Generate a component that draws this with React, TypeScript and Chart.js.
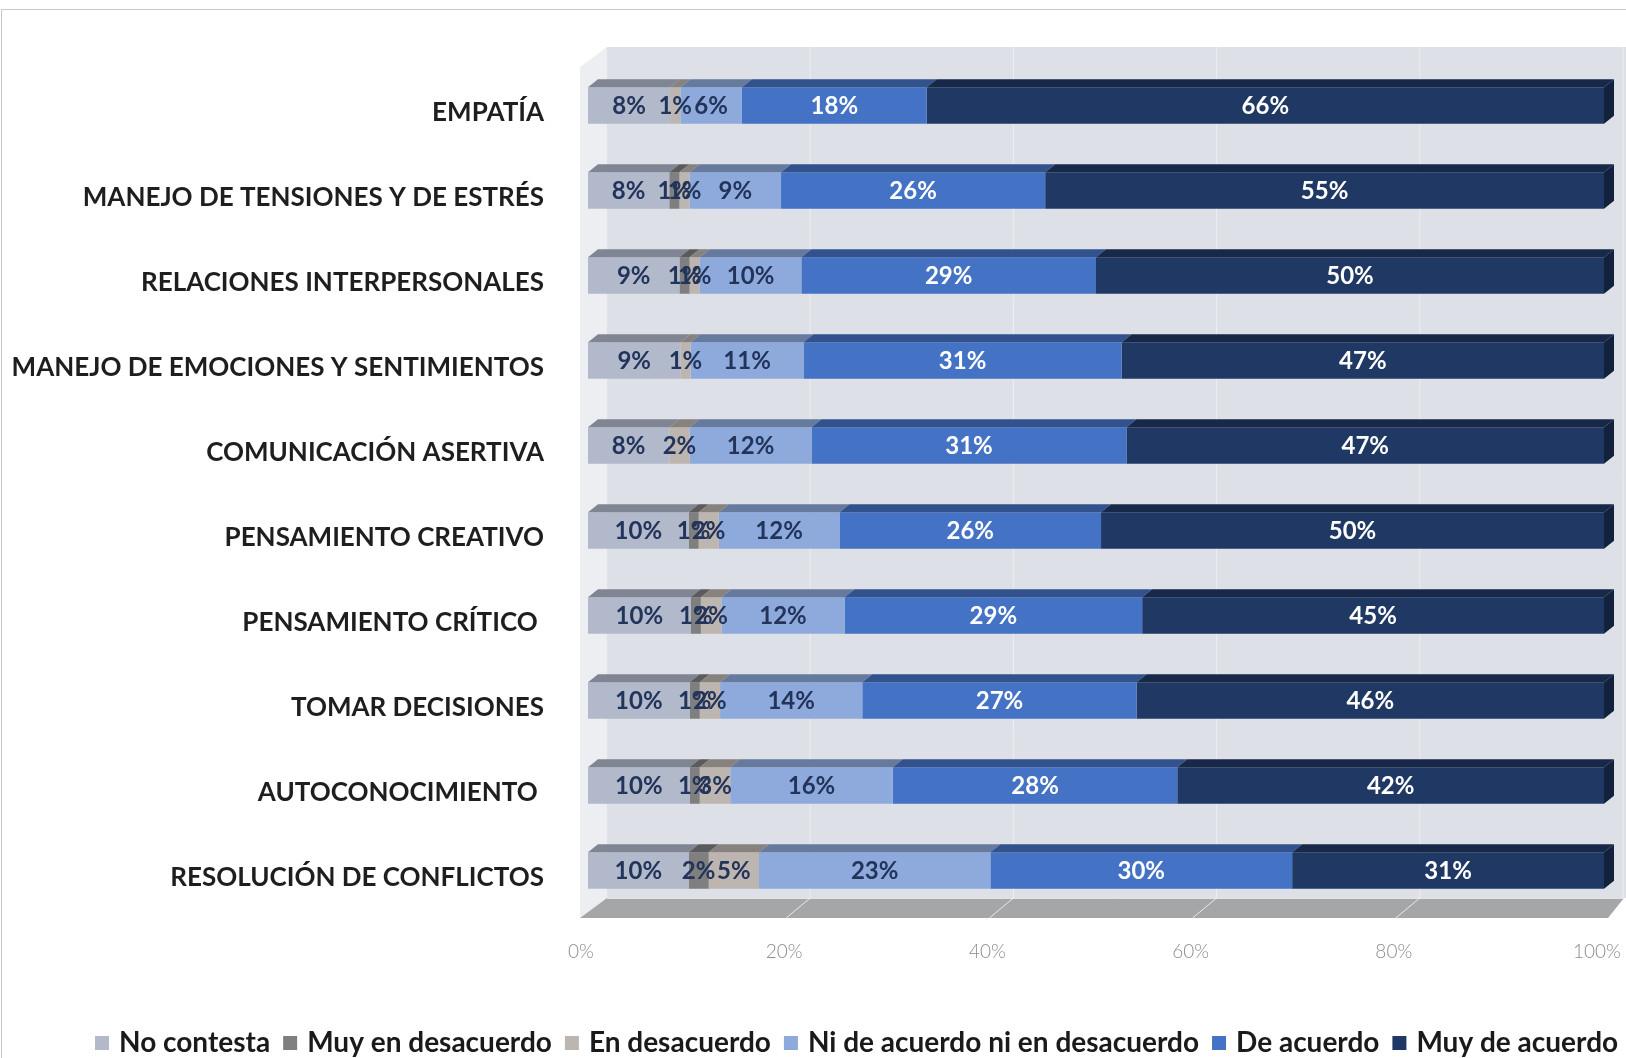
import React, { useEffect, useRef } from "react";
import { Chart, registerables } from "chart.js";

Chart.register(...registerables);

const categories = [
  "EMPATÍA",
  "MANEJO DE TENSIONES Y DE ESTRÉS",
  "RELACIONES INTERPERSONALES",
  "MANEJO DE EMOCIONES Y SENTIMIENTOS",
  "COMUNICACIÓN ASERTIVA",
  "PENSAMIENTO CREATIVO",
  "PENSAMIENTO CRÍTICO ",
  "TOMAR DECISIONES",
  "AUTOCONOCIMIENTO ",
  "RESOLUCIÓN DE CONFLICTOS",
];

const seriesNames = [
  "No contesta",
  "Muy en desacuerdo",
  "En desacuerdo",
  "Ni de acuerdo ni en desacuerdo",
  "De acuerdo",
  "Muy de acuerdo",
];

const noContesta = [8, 8, 9, 9, 8, 10, 10, 10, 10, 10];
const muyEnDesacuerdo = [0, 1, 1, 0, 0, 1, 1, 1, 1, 2];
const enDesacuerdo = [1, 1, 1, 1, 2, 2, 2, 2, 3, 5];
const niDeAcuerdo = [6, 9, 10, 11, 12, 12, 12, 14, 16, 23];
const deAcuerdo = [18, 26, 29, 31, 31, 26, 29, 27, 28, 30];
const muyDeAcuerdo = [66, 55, 50, 47, 47, 50, 45, 46, 42, 31];

const xTicks = [0, 20, 40, 60, 80, 100];

const seriesValues = [noContesta, muyEnDesacuerdo, enDesacuerdo, niDeAcuerdo, deAcuerdo, muyDeAcuerdo];
const seriesColors = ["#b1b9cb", "#7f7f7f", "#bdb5b0", "#8eaadc", "#4472c4", "#203864"];
const labelColors = ["#22345a", "#22345a", "#22345a", "#22345a", "#ffffff", "#ffffff"];

const DX = 10;
const DY = 8;
const FONT = "Lato, 'Open Sans', sans-serif";

function shade(hex: string, f: number) {
  const n = parseInt(hex.slice(1), 16);
  const r = Math.round(((n >> 16) & 255) * f);
  const g = Math.round(((n >> 8) & 255) * f);
  const b = Math.round((n & 255) * f);
  return `rgb(${r},${g},${b})`;
}

const totals = categories.map((_, i) => seriesValues.reduce((s, arr) => s + arr[i], 0));

const scenePlugin = {
  id: "scene3d",
  beforeDraw(chart: any) {
    const { ctx, chartArea: a, width, height } = chart;
    const xs = chart.scales.x;
    ctx.save();
    ctx.fillStyle = "#ffffff";
    ctx.fillRect(0, 0, width, height);
    ctx.strokeStyle = "#c8c8c8";
    ctx.lineWidth = 1;
    ctx.strokeRect(1.5, 9.5, width + 20, height + 20);

    const wallL = a.left + 19;
    const wallT = a.top - 16;
    const wallR = width;
    const floorTop = a.bottom - 15;
    const floorBot = a.bottom + 5;
    ctx.fillStyle = "#eceef2";
    ctx.beginPath();
    ctx.moveTo(a.left - 8, wallT + 20);
    ctx.lineTo(wallL, wallT);
    ctx.lineTo(wallL, floorTop);
    ctx.lineTo(a.left - 8, floorBot);
    ctx.closePath();
    ctx.fill();
    ctx.fillStyle = "#dde0e6";
    ctx.fillRect(wallL, wallT, wallR - wallL, floorTop - wallT);
    ctx.strokeStyle = "rgba(255,255,255,0.45)";
    ctx.lineWidth = 1;
    xTicks.forEach((t) => {
      if (t === 0) return;
      const px = xs.getPixelForValue(t) + 19;
      ctx.beginPath();
      ctx.moveTo(px, wallT);
      ctx.lineTo(px, floorTop);
      ctx.stroke();
    });
    ctx.fillStyle = "#a5a6a8";
    ctx.beginPath();
    ctx.moveTo(wallL, floorTop);
    ctx.lineTo(a.right + 20, floorTop);
    ctx.lineTo(a.right + 4, floorBot);
    ctx.lineTo(a.left - 8, floorBot);
    ctx.closePath();
    ctx.fill();
    ctx.strokeStyle = "#e2e4e8";
    ctx.beginPath();
    ctx.moveTo(wallL, floorTop + 0.5);
    ctx.lineTo(a.right + 20, floorTop + 0.5);
    ctx.stroke();
    ctx.strokeStyle = "rgba(255,255,255,0.75)";
    xTicks.forEach((t) => {
      if (t === 0 || t === 100) return;
      const px = xs.getPixelForValue(t);
      ctx.beginPath();
      ctx.moveTo(px + 19, floorTop);
      ctx.lineTo(px - 5, floorBot);
      ctx.stroke();
    });
    ctx.restore();
  },
  afterDatasetsDraw(chart: any) {
    const { ctx } = chart;
    ctx.save();
    const n = chart.data.datasets.length;
    chart.data.datasets.forEach((ds: any, di: number) => {
      const meta = chart.getDatasetMeta(di);
      meta.data.forEach((el: any) => {
        const p = el.getProps(["x", "y", "base", "height"], true);
        const top = p.y - p.height / 2;
        const bot = p.y + p.height / 2;
        const x0 = Math.min(p.base, p.x);
        const x1 = Math.max(p.base, p.x);
        if (x1 - x0 < 0.1) return;
        ctx.fillStyle = shade(seriesColors[di], 0.72);
        ctx.beginPath();
        ctx.moveTo(x0, top);
        ctx.lineTo(x0 + DX, top - DY);
        ctx.lineTo(x1 + DX, top - DY);
        ctx.lineTo(x1, top);
        ctx.closePath();
        ctx.fill();
        if (di === n - 1) {
          ctx.fillStyle = shade(seriesColors[di], 0.6);
          ctx.beginPath();
          ctx.moveTo(x1, top);
          ctx.lineTo(x1 + DX, top - DY);
          ctx.lineTo(x1 + DX, bot - DY);
          ctx.lineTo(x1, bot);
          ctx.closePath();
          ctx.fill();
        }
      });
    });
    ctx.font = `bold 24px ${FONT}`;
    ctx.textAlign = "center";
    ctx.textBaseline = "middle";
    chart.data.datasets.forEach((ds: any, di: number) => {
      const meta = chart.getDatasetMeta(di);
      meta.data.forEach((el: any, i: number) => {
        const v = seriesValues[di][i];
        if (!v) return;
        const p = el.getProps(["x", "y", "base"], true);
        ctx.fillStyle = labelColors[di];
        ctx.fillText(`${v}%`, (p.x + p.base) / 2, p.y + 1);
      });
    });
    ctx.restore();
  },
  afterDraw(chart: any) {
    const { ctx } = chart;
    ctx.save();
    ctx.font = `bold 28px ${FONT}`;
    ctx.textBaseline = "middle";
    ctx.textAlign = "left";
    let x = 95;
    const y = 1043;
    seriesNames.forEach((name, i) => {
      ctx.fillStyle = seriesColors[i];
      ctx.fillRect(x, y - 7, 14, 14);
      x += 14 + 10;
      ctx.fillStyle = "#1a1a1a";
      ctx.fillText(name, x, y);
      x += ctx.measureText(name).width + 13;
    });
    ctx.restore();
  },
};

export default function App() {
  const ref = useRef<HTMLCanvasElement | null>(null);
  useEffect(() => {
    document.body.style.margin = "0";
    const canvas = ref.current!;
    const chart = new Chart(canvas, {
      type: "bar",
      data: {
        labels: categories,
        datasets: seriesNames.map((name, di) => ({
          label: name,
          data: seriesValues[di].map((v, i) => (v / totals[i]) * 100),
          backgroundColor: seriesColors[di],
          borderWidth: 0,
          barPercentage: 0.43,
          categoryPercentage: 1,
        })),
      },
      options: {
        indexAxis: "y",
        responsive: false,
        animation: false,
        devicePixelRatio: 1,
        layout: { padding: { top: 63, right: 22, left: 0, bottom: 0 } },
        plugins: {
          legend: { display: false },
          tooltip: { enabled: false },
        },
        scales: {
          x: {
            stacked: true,
            min: 0,
            max: 100,
            grid: { display: false, drawTicks: false },
            border: { display: false },
            afterBuildTicks: (scale: any) => {
              scale.ticks = xTicks.map((v) => ({ value: v }));
            },
            afterFit: (scale: any) => {
              scale.height = 145;
              scale.paddingLeft = 0;
              scale.paddingRight = 0;
            },
            ticks: {
              padding: 27,
              labelOffset: -7,
              color: "#8c8c8c",
              font: { family: FONT, size: 19, weight: "300" },
              callback: (v: any) => `${v}%`,
              maxRotation: 0,
            },
          },
          y: {
            stacked: true,
            grid: { display: false, drawTicks: false },
            border: { display: false },
            afterFit: (scale: any) => {
              scale.width = 588;
            },
            ticks: {
              padding: 44,
              labelOffset: 7,
              color: "#1e1e1e",
              font: { family: FONT, size: 26, weight: "bold" },
            },
          },
        },
      },
      plugins: [scenePlugin],
    } as any);
    return () => chart.destroy();
  }, []);
  return <canvas ref={ref} width={1626} height={1058} style={{ display: "block", width: 1626, height: 1058 }} />;
}
